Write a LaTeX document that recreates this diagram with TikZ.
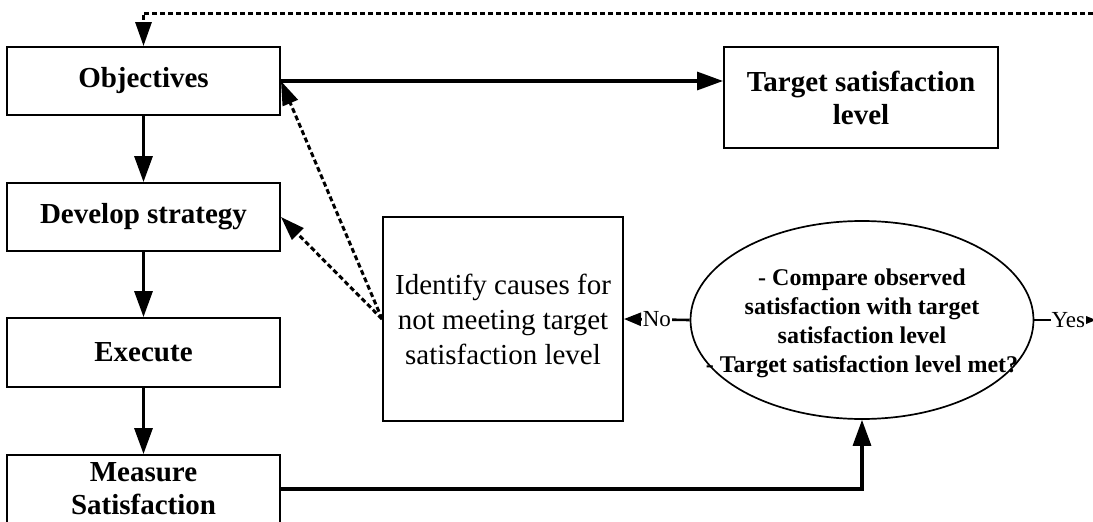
\documentclass[tikz,border=0pt]{standalone}
\usepackage{fontspec}
\setmainfont{Liberation Serif}
\usetikzlibrary{arrows.meta,shapes.geometric}
\begin{document}
\begin{tikzpicture}[x=1pt,y=-1pt,
  box/.style={draw,line width=1.9pt,inner sep=0pt,align=center,
    font=\fontsize{29pt}{33pt}\selectfont\bfseries},
  flow/.style={line width=3.2pt,-{Triangle[length=26pt,width=18pt]}},
  back/.style={line width=3pt,dash pattern=on 5pt off 3pt,
    -{Triangle[length=24pt,width=16pt]}},
  small/.style={line width=2.6pt,-{Triangle[length=17pt,width=13pt]}},
  lbl/.style={fill=white,inner sep=1pt,font=\fontsize{23pt}{27pt}\selectfont}]
\useasboundingbox (0,0) rectangle (1093,522);

% left column of process steps
\node[box,minimum width=273pt,minimum height=68pt] (obj) at (143.5,81) {Objectives};
\node[box,minimum width=273pt,minimum height=68pt] (dev) at (143.5,217) {Develop strategy};
\node[box,minimum width=273pt,minimum height=69pt] (exe) at (143.5,352.5) {Execute};
\node[box,minimum width=273pt,minimum height=68pt] (mea) at (143.5,489) {Measure\\Satisfaction};

% target and cause analysis
\node[box,minimum width=274pt,minimum height=101pt] (tgt) at (861,97.5) {Target satisfaction\\level};
\node[box,minimum width=240pt,minimum height=204pt,font=\fontsize{29pt}{35pt}\selectfont]
  (idc) at (503,319) {Identify causes for\\not meeting target\\satisfaction level};

% decision
\node[draw,ellipse,line width=1.7pt,minimum width=343pt,minimum height=198pt,inner sep=0pt]
  (chk) at (862,320) {};
\node[align=center,inner sep=0pt,font=\fontsize{24pt}{29pt}\selectfont\bfseries]
  (chktxt) at (862,323) {- Compare observed\\satisfaction with target\\satisfaction level\\- Target satisfaction level met?};

\coordinate (topright) at (1093,13);
\coordinate (yesend) at (1096,320);

% main flow
\draw[flow] (obj) -- (dev);
\draw[flow] (dev) -- (exe);
\draw[flow] (exe) -- (mea);
\draw[flow] (obj.east) -- (obj.east -| tgt.west);
\draw[flow] (mea.east) -| (chk.south);

% decision outcomes
\draw[small] (chk.west) -- node[lbl] {No} (idc.east);
\draw[small] (chk.east) -- node[lbl,pos=0.55] {Yes} (yesend);

% feedback loops
\draw[back] (topright) -| (obj.north);
\draw[back] (idc.west) -- (obj.east);
\draw[back] (idc.west) -- (dev.east);
\end{tikzpicture}
\end{document}
